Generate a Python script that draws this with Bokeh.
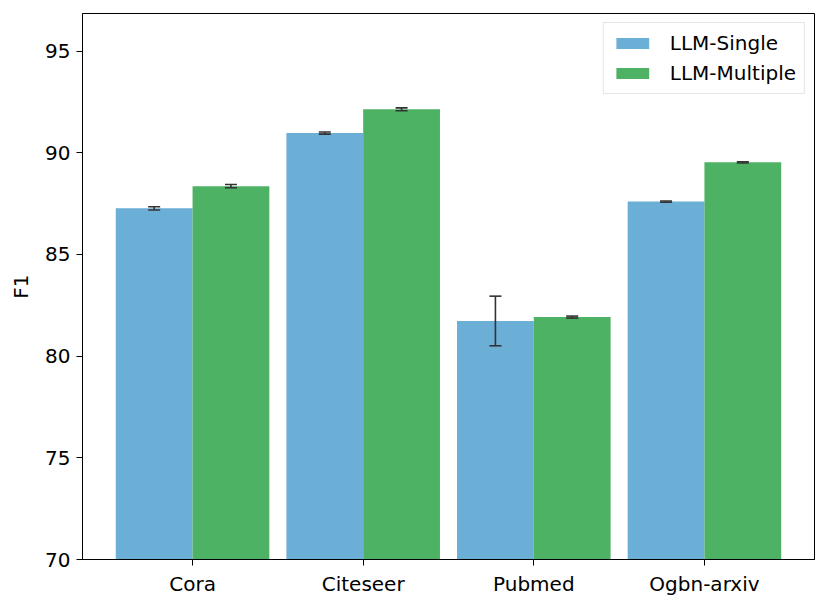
from bokeh.plotting import figure
from bokeh.models import ColumnDataSource, Range1d, FixedTicker, Whisker, TeeHead, Legend, LegendItem
from bokeh.embed import file_html
from bokeh.resources import INLINE

# ---- data ----
categories = ["Cora", "Citeseer", "Pubmed", "Ogbn-arxiv"]
single_mean = [87.27, 90.97, 81.73, 87.60]
single_err = [0.08, 0.05, 1.22, 0.03]
multiple_mean = [88.36, 92.14, 81.92, 89.53]
multiple_err = [0.08, 0.07, 0.05, 0.03]
series_names = ["LLM-Single", "LLM-Multiple"]
y_ticks = [70, 75, 80, 85, 90, 95]

FONT = "DejaVu Sans"
FS = "20px"
BLUE = "#6BAED6"
GREEN = "#4DB263"
BW = 0.45

xs = list(range(len(categories)))
src_s = ColumnDataSource(dict(
    x=[i - BW / 2 for i in xs], top=single_mean,
    upper=[m + e for m, e in zip(single_mean, single_err)],
    lower=[m - e for m, e in zip(single_mean, single_err)]))
src_m = ColumnDataSource(dict(
    x=[i + BW / 2 for i in xs], top=multiple_mean,
    upper=[m + e for m, e in zip(multiple_mean, multiple_err)],
    lower=[m - e for m, e in zip(multiple_mean, multiple_err)]))

p = figure(width=821, height=601, output_backend="svg", toolbar_location=None,
           x_range=Range1d(-0.645, 3.645), y_range=Range1d(70, 96.85),
           min_border_left=82, min_border_right=7, min_border_top=13, min_border_bottom=42)
p.background_fill_color = "white"
p.border_fill_color = "white"
p.outline_line_color = "black"
p.outline_line_width = 1
p.grid.visible = False

r1 = p.vbar(x="x", top="top", bottom=70, width=BW, source=src_s,
            fill_color=BLUE, line_color=None)
r2 = p.vbar(x="x", top="top", bottom=70, width=BW, source=src_m,
            fill_color=GREEN, line_color=None)

for src in (src_s, src_m):
    w = Whisker(source=src, base="x", upper="upper", lower="lower",
                line_color="#333333", line_width=1.6, level="overlay",
                upper_head=TeeHead(size=12, line_color="#333333", line_width=1.6),
                lower_head=TeeHead(size=12, line_color="#333333", line_width=1.6))
    p.add_layout(w)

# axes
p.xaxis.ticker = FixedTicker(ticks=xs)
p.xaxis.major_label_overrides = {i: c for i, c in enumerate(categories)}
p.yaxis.ticker = FixedTicker(ticks=y_ticks)
for ax in (p.xaxis[0], p.yaxis[0]):
    ax.major_label_text_font = FONT
    ax.major_label_text_font_size = FS
    ax.major_label_text_color = "black"
    ax.major_tick_out = 6
    ax.major_tick_in = 0
    ax.minor_tick_out = 0
    ax.minor_tick_in = 0
    ax.major_tick_line_color = "black"
    ax.axis_line_color = "black"
    ax.major_label_standoff = 6
p.yaxis.axis_label = "F1"
p.yaxis.axis_label_text_font = FONT
p.yaxis.axis_label_text_font_size = FS
p.yaxis.axis_label_text_font_style = "normal"
p.yaxis.axis_label_text_color = "black"
p.yaxis.axis_label_standoff = 9

legend = Legend(items=[LegendItem(label=series_names[0], renderers=[r1]),
                       LegendItem(label=series_names[1], renderers=[r2])],
                location="top_right")
legend.label_text_font = FONT
legend.label_text_font_size = FS
legend.label_text_color = "black"
legend.glyph_width = 41
legend.glyph_height = 14
legend.label_standoff = 17
legend.label_height = 20
legend.spacing = 6
legend.padding = 8
legend.margin = 9
legend.border_line_color = "#cccccc"
legend.border_line_width = 1
legend.background_fill_alpha = 0.8
p.add_layout(legend)

open("out.html", "w").write(file_html(p, INLINE))
